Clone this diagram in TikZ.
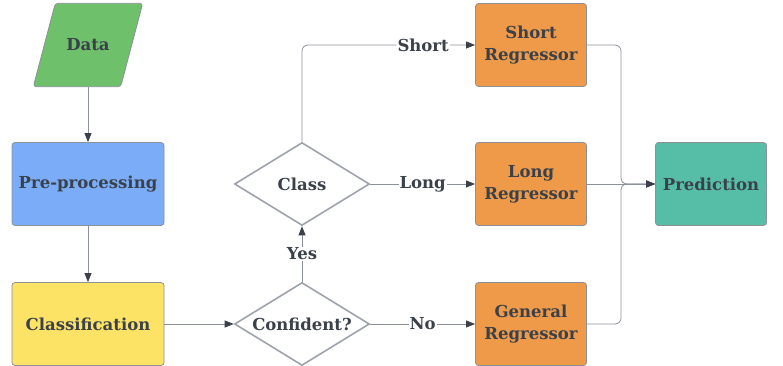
\documentclass[tikz,border=0pt]{standalone}
\usepackage{fontspec}
\setmainfont{DejaVu Serif}
\usetikzlibrary{positioning,shapes.geometric,arrows.meta,calc}
\definecolor{inkgray}{HTML}{3A414A}
\definecolor{linegray}{HTML}{8B9099}
\definecolor{rimgray}{HTML}{9EA3AB}
\definecolor{datagreen}{HTML}{6FC06B}
\definecolor{prepblue}{HTML}{7AACF7}
\definecolor{classyellow}{HTML}{FDE365}
\definecolor{regorange}{HTML}{EF9A48}
\definecolor{predteal}{HTML}{56BEA7}

\begin{document}
\begin{tikzpicture}[
    x=1pt, y=1pt,
    font=\bfseries\fontsize{16.5}{22}\selectfont, text=inkgray,
    box/.style={rectangle, rounded corners=3pt, draw=linegray, line width=0.8pt,
        minimum width=111pt, minimum height=83pt, align=center},
    decision/.style={diamond, draw=rimgray, line width=1.6pt, fill=white,
        minimum width=135pt, minimum height=83pt, inner sep=0pt, label=center:#1},
    dataio/.style={rectangle, minimum width=87pt, minimum height=83pt, inner sep=0pt},
    link/.style={draw=linegray, line width=0.8pt,
        -{Triangle[length=9pt,width=7pt,color=inkgray,fill=inkgray]}},
    tag/.style={fill=white, inner sep=1pt}
  ]
  \useasboundingbox (0,0) rectangle (783,366);

  % left column
  \node[dataio] (data) at (88,321) {};
  \filldraw[fill=datagreen, draw=linegray, line width=0.8pt, rounded corners=3pt]
    ([xshift=-11pt]data.south west) -- ([xshift=-11pt]data.south east)
    -- ([xshift=11pt]data.north east) -- ([xshift=11pt]data.north west) -- cycle;
  \node at (data) {Data};
  \node[box, fill=prepblue, minimum width=152pt] (prep) at (88,182) {Pre-processing};
  \node[box, fill=classyellow, minimum width=152pt] (classif) at (88,42) {Classification};

  % decisions
  \node[decision=Confident?] (confident) at (302,42) {};
  \node[decision=Class] (class) at (302,182) {};

  % regressors
  \node[box, fill=regorange] (short) at (531,321) {Short\\Regressor};
  \node[box, fill=regorange] (long) at (531,182) {Long\\Regressor};
  \node[box, fill=regorange] (general) at (531,42) {General\\Regressor};
  \node[box, fill=predteal] (prediction) at (711,182) {Prediction};
  \coordinate (merge) at ($(long.east)!0.5!(prediction.west)$);

  \draw[link] (data) -- (prep);
  \draw[link] (prep) -- (classif);
  \draw[link] (classif) -- (confident);
  \draw[link] (confident) -- node[tag] {Yes} (class);
  \draw[link] (confident) -- node[tag] {No} (general);
  \draw[link] (class) -- node[tag] {Long} (long);
  \draw[link, rounded corners=6pt] (class.north) |- node[tag, pos=0.85] {Short} (short.west);

  % join into prediction
  \draw[link, rounded corners=6pt] (short.east) -| (merge) -- (prediction.west);
  \draw[link, rounded corners=6pt] (general.east) -| (merge) -- (prediction.west);
  \draw[link] (long.east) -- (prediction.west);
\end{tikzpicture}
\end{document}
